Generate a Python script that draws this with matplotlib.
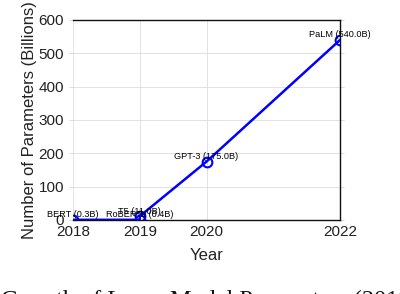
import matplotlib
matplotlib.use("Agg")
import matplotlib.pyplot as plt

# Model sizes by year (billions of parameters)
models = ["BERT", "RoBERTa", "T5", "GPT-3", "PaLM"]
years = [2018, 2019, 2019, 2020, 2022]
params = [0.3, 0.4, 11.0, 175.0, 540.0]
xtick_years = [2018, 2019, 2020, 2022]
ytick_vals = [0, 100, 200, 300, 400, 500, 600]

plt.rcParams['font.family'] = ['Liberation Sans', 'DejaVu Sans']

fig = plt.figure(figsize=(4.0, 2.94), dpi=100)
ax = fig.add_axes([0.1825, 0.252, 0.6675, 0.68])

ax.plot(years, params, color='blue', lw=1.8, marker='o', markersize=7,
        markerfacecolor='none', markeredgecolor='blue', markeredgewidth=1.5)

for name, x, y in zip(models, years, params):
    ax.annotate(f"{name} ({y:.1f}B)", (x, y), xytext=(0, 0.5),
                textcoords='offset points', ha='center', va='bottom',
                fontsize=6.6, color='black')

ax.set_xlim(2018, 2022)
ax.set_ylim(0, 600)
ax.set_xticks(xtick_years)
ax.set_yticks(ytick_vals)
ax.tick_params(axis='both', labelsize=11, colors='#222222', length=3, width=0.5)
ax.tick_params(axis='y', right=True, color='#cccccc')
ax.tick_params(axis='x', length=0)
ax.grid(True, color='#dddddd', lw=0.6)
ax.set_axisbelow(True)

for side in ['top', 'right', 'bottom']:
    ax.spines[side].set_color('#111111')
    ax.spines[side].set_linewidth(1.0)
ax.spines['left'].set_visible(False)

ax.set_xlabel("Year", fontsize=12, color='#222222', labelpad=7)
ax.set_ylabel("Number of Parameters (Billions)", fontsize=12, color='#222222', labelpad=1)

fig.text(0.003, -0.022, "Growth of Large Model Parameters (2018-2022)", family='Liberation Serif',
         fontsize=17.5, ha='left', va='center', color='#111111')

fig.savefig("out.png", dpi=100)
